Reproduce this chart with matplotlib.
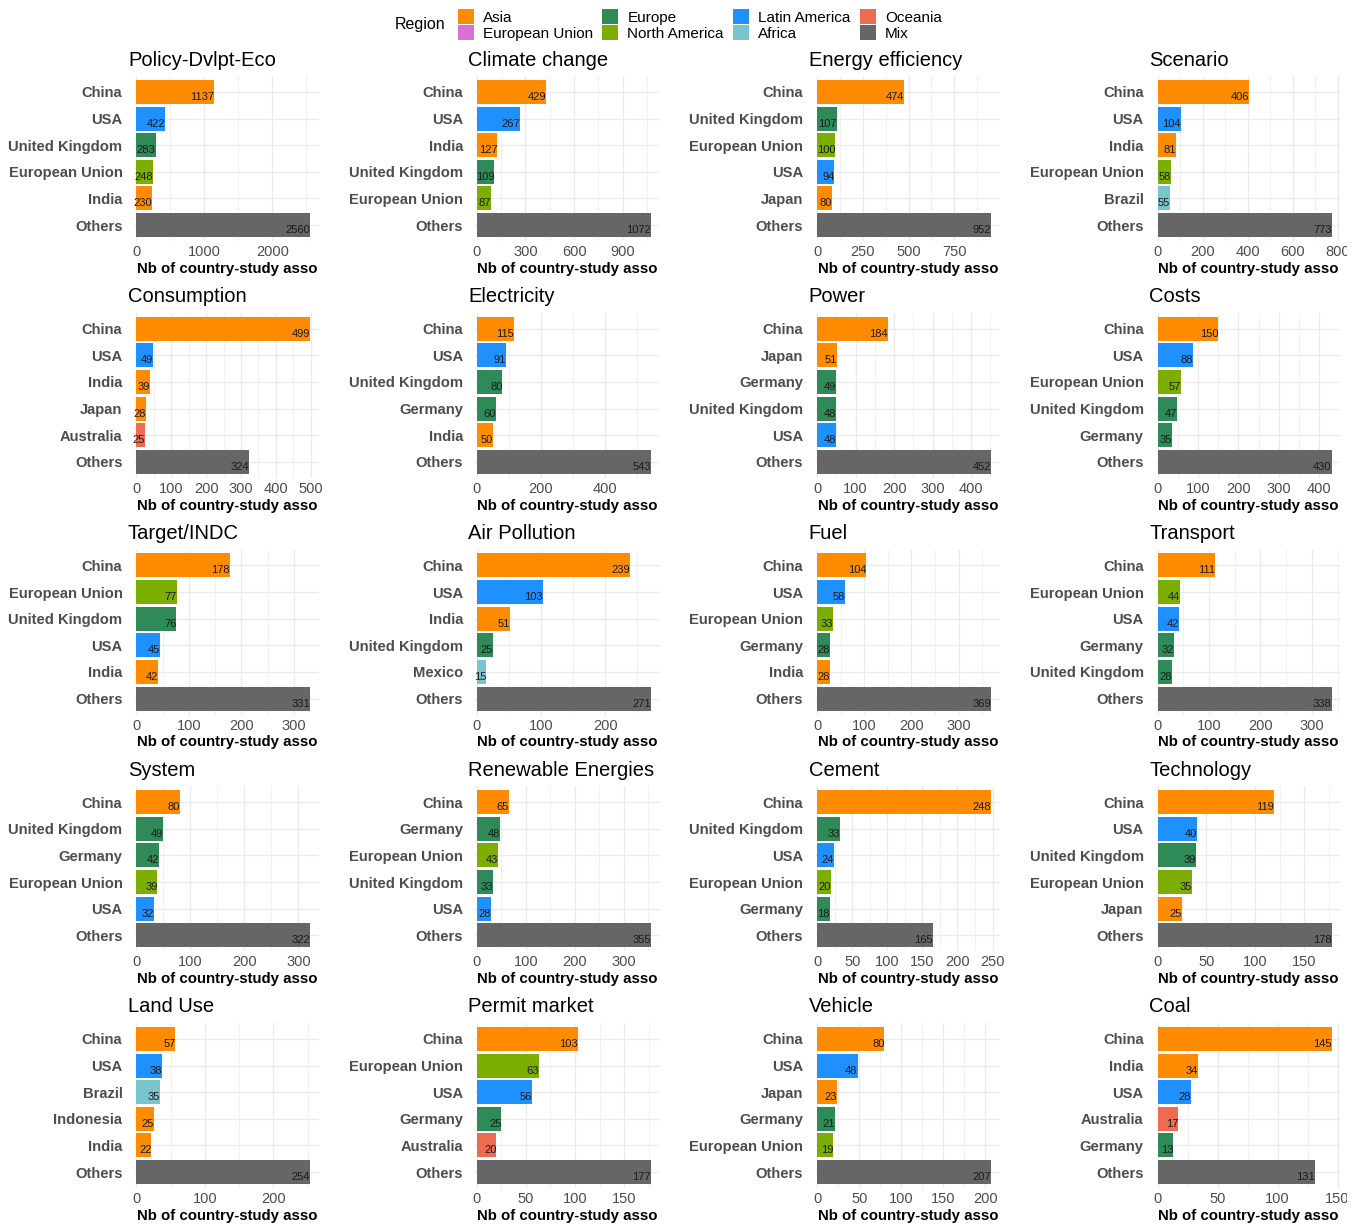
import matplotlib.pyplot as plt
import numpy as np
from matplotlib.patches import Patch, Rectangle

plt.rcParams['font.family'] = ['Liberation Sans', 'DejaVu Sans']

# legend categories (as drawn in the reference) and colours
regions = ["Asia", "European Union", "Europe", "North America",
           "Latin America", "Africa", "Oceania", "Mix"]
region_colors = {"Asia": "#FF8C00",
                 "European Union": "#DA70D6",
                 "Europe": "#2E8B57",
                 "North America": "#7CAE00",
                 "Latin America": "#1E90FF",
                 "Africa": "#7AC5CD",
                 "Oceania": "#EE6A50",
                 "Mix": "#666666"}

# fill used for each country in the reference
country_region = {"China": "Asia", "India": "Asia", "Japan": "Asia", "Indonesia": "Asia",
                  "USA": "Latin America", "United Kingdom": "Europe", "Germany": "Europe",
                  "European Union": "North America", "Brazil": "Africa", "Mexico": "Africa",
                  "Australia": "Oceania", "Others": "Mix"}

topics = ["Policy-Dvlpt-Eco", "Climate change", "Energy efficiency", "Scenario",
          "Consumption", "Electricity", "Power", "Costs",
          "Target/INDC", "Air Pollution", "Fuel", "Transport",
          "System", "Renewable Energies", "Cement", "Technology",
          "Land Use", "Permit market", "Vehicle", "Coal"]

countries = [
    ["China", "USA", "United Kingdom", "European Union", "India", "Others"],
    ["China", "USA", "India", "United Kingdom", "European Union", "Others"],
    ["China", "United Kingdom", "European Union", "USA", "Japan", "Others"],
    ["China", "USA", "India", "European Union", "Brazil", "Others"],
    ["China", "USA", "India", "Japan", "Australia", "Others"],
    ["China", "USA", "United Kingdom", "Germany", "India", "Others"],
    ["China", "Japan", "Germany", "United Kingdom", "USA", "Others"],
    ["China", "USA", "European Union", "United Kingdom", "Germany", "Others"],
    ["China", "European Union", "United Kingdom", "USA", "India", "Others"],
    ["China", "USA", "India", "United Kingdom", "Mexico", "Others"],
    ["China", "USA", "European Union", "Germany", "India", "Others"],
    ["China", "European Union", "USA", "Germany", "United Kingdom", "Others"],
    ["China", "United Kingdom", "Germany", "European Union", "USA", "Others"],
    ["China", "Germany", "European Union", "United Kingdom", "USA", "Others"],
    ["China", "United Kingdom", "USA", "European Union", "Germany", "Others"],
    ["China", "USA", "United Kingdom", "European Union", "Japan", "Others"],
    ["China", "USA", "Brazil", "Indonesia", "India", "Others"],
    ["China", "European Union", "USA", "Germany", "Australia", "Others"],
    ["China", "USA", "Japan", "Germany", "European Union", "Others"],
    ["China", "India", "USA", "Australia", "Germany", "Others"],
]

counts = [
    [1137, 422, 283, 248, 230, 2560],
    [429, 267, 127, 109, 87, 1072],
    [474, 107, 100, 94, 80, 952],
    [406, 104, 81, 58, 55, 773],
    [499, 49, 39, 28, 25, 324],
    [115, 91, 80, 60, 50, 543],
    [184, 51, 49, 48, 48, 452],
    [150, 88, 57, 47, 35, 430],
    [178, 77, 76, 45, 42, 331],
    [239, 103, 51, 25, 15, 271],
    [104, 58, 33, 28, 28, 369],
    [111, 44, 42, 32, 28, 338],
    [80, 49, 42, 39, 32, 322],
    [65, 48, 43, 33, 28, 355],
    [248, 33, 24, 20, 18, 165],
    [119, 40, 39, 35, 25, 178],
    [57, 38, 35, 25, 22, 254],
    [103, 63, 56, 25, 20, 177],
    [80, 48, 23, 21, 19, 207],
    [145, 34, 28, 17, 13, 131],
]

tick_steps = [1000, 300, 250, 200,
              100, 200, 100, 100,
              100, 100, 100, 100,
              100, 100, 50, 50,
              100, 50, 50, 50]

W, H = 1363, 1224
fig = plt.figure(figsize=(W / 100, H / 100), dpi=100)

grid_col = "#EBEBEB"
for k, topic in enumerate(topics):
    r, c = divmod(k, 4)
    left = 135 + c * 340.4
    top = 76 + r * 236.75
    ax = fig.add_axes([left / W, 1 - (top + 165) / H, 184 / W, 165 / H])

    vals = counts[k]
    names = countries[k]
    y = np.arange(len(vals))
    cols = [region_colors[country_region[n]] for n in names]
    ax.barh(y, vals, height=0.9, color=cols, zorder=2)
    for yi, v in zip(y, vals):
        ax.text(v, yi, str(v), ha='right', va='top', fontsize=8, color='#1a1a1a', zorder=3)

    vmax = max(vals)
    ax.set_xlim(-0.008 * vmax, vmax * 1.05)
    ax.set_ylim(len(vals) - 0.4, -0.6)
    step = tick_steps[k]
    ax.set_xticks(np.arange(0, vmax * 1.05 + 1e-9, step))
    ax.set_xticks(np.arange(step / 2, vmax * 1.05, step), minor=True)
    ax.set_yticks(y)
    ax.set_yticklabels(names, fontsize=10.6, fontweight='bold', color='#4D4D4D')
    ax.tick_params(axis='x', which='both', length=0, labelsize=10.5, labelcolor='#4D4D4D', pad=3)
    ax.tick_params(axis='y', length=0, pad=9)
    ax.grid(axis='x', which='major', color=grid_col, linewidth=1.0, zorder=0)
    ax.grid(axis='x', which='minor', color=grid_col, linewidth=0.5, zorder=0)
    ax.grid(axis='y', which='major', color=grid_col, linewidth=1.0, zorder=0)
    for s in ax.spines.values():
        s.set_visible(False)
    ax.set_xlabel("Nb of country-study asso", fontsize=10.8, fontweight='bold', labelpad=2)
    fig.text((left - 7) / W, 1 - (top - 16) / H, topic, fontsize=14.5,
             ha='left', va='center')

# legend at the top
fig.text(395 / W, 1 - 25 / H, "Region", fontsize=11.5, ha='left', va='center')
handles = [Patch(facecolor=region_colors[g], label=g) for g in regions]
fig.legend(handles=handles, ncol=4, loc='center left',
           bbox_to_anchor=(450 / W, 1 - 25 / H), frameon=False,
           fontsize=11, handlelength=1.05, handleheight=1.1, handletextpad=0.6,
           columnspacing=0.6, labelspacing=0.05, borderpad=0)

# the reference image is cut off at its right edge
fig.patches.append(Rectangle((1347 / W, 0), (W - 1347) / W, 1, transform=fig.transFigure,
                             facecolor='white', edgecolor='none', zorder=10))

fig.savefig("out.png", dpi=100, facecolor='white')
